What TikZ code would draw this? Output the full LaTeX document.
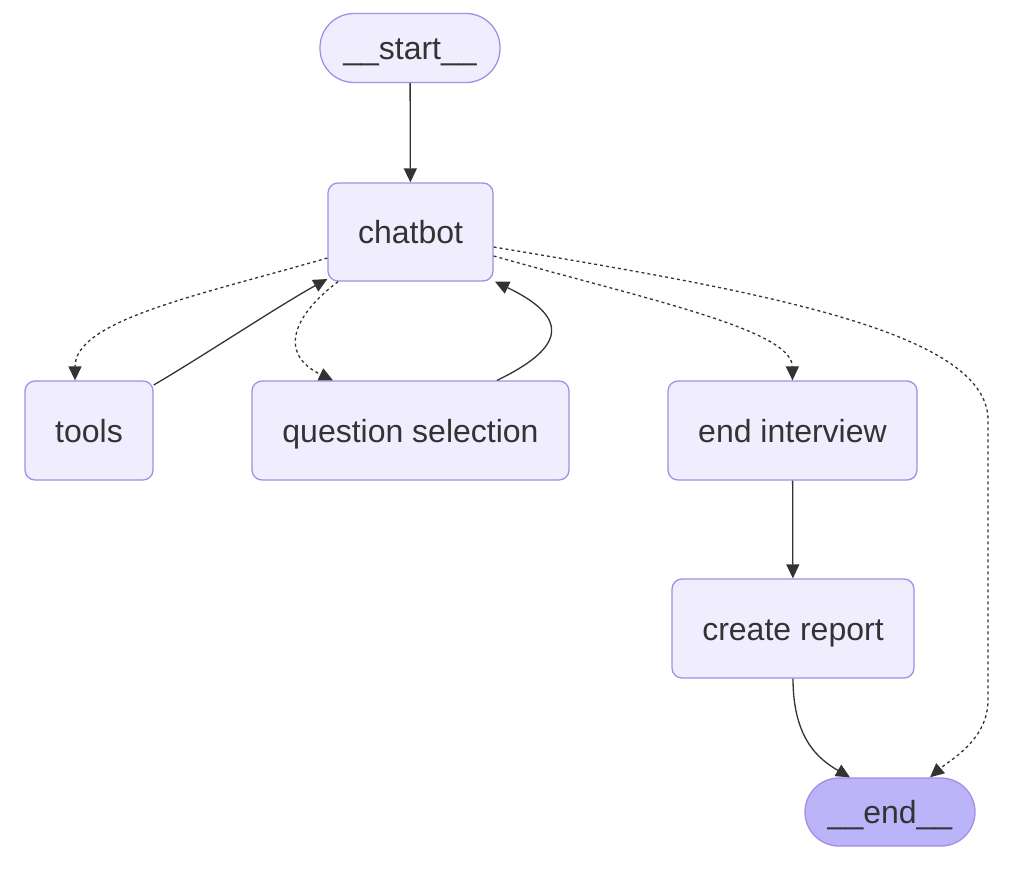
\documentclass[tikz,border=0pt]{standalone}
\usepackage{fontspec}
\setmainfont{Liberation Sans}
\usetikzlibrary{arrows.meta}
\definecolor{nfill}{HTML}{F0EEFE}
\definecolor{nline}{HTML}{A58DE6}
\definecolor{efill}{HTML}{BCB4F8}
\definecolor{txt}{HTML}{333333}
\definecolor{edge}{HTML}{333333}
\begin{document}
\begin{tikzpicture}[x=1pt,y=-1pt,
  box/.style={draw=nline,fill=nfill,line width=1.3pt,rounded corners=10pt,inner sep=0pt,
    text=txt,font=\fontsize{32}{38}\selectfont,text height=26pt,text depth=3pt},
  pill/.style={box,rounded corners=34pt},
  conn/.style={draw=edge,line width=1.3pt,-{Triangle[length=14pt,width=13pt]}},
  dconn/.style={conn,dash pattern=on 3pt off 3pt}]
\useasboundingbox (0,0) rectangle (1032,870);
\node[pill,minimum width=180pt,minimum height=69pt] (start) at (410,48) {\_\_start\_\_};
\node[box,minimum width=165pt,minimum height=98pt] (chatbot) at (410.5,232) {chatbot};
\node[box,minimum width=128pt,minimum height=99pt] (tools) at (89,430.5) {tools};
\node[box,minimum width=317pt,minimum height=99pt] (qs) at (410.5,430.5) {question selection};
\node[box,minimum width=249pt,minimum height=99pt] (ei) at (792.5,430.5) {end interview};
\node[box,minimum width=242pt,minimum height=99pt] (cr) at (793,628.5) {create report};
\node[pill,fill=efill,minimum width=170pt,minimum height=68pt] (end) at (890,812) {\_\_end\_\_};
\draw[conn] (start) -- (chatbot);
\draw[dconn] (chatbot.west |- 0,258) .. controls (200,295) and (75,320) .. (tools.north -| 75,0);
\draw[conn] (tools.north east |- 0,385) .. controls (200,358) and (280,305) .. (chatbot.south west |- 320,279);
\draw[dconn] (chatbot.south west -| 338,0) .. controls (290,318) and (280,355) .. (qs.north -| 333,0);
\draw[conn] (qs.north -| 497,0) .. controls (560,350) and (575,320) .. (chatbot.south east -| 495,0);
\draw[dconn] (chatbot.east |- 0,256) .. controls (650,300) and (792,330) .. (ei.north);
\draw[dconn] (chatbot.east |- 0,247) .. controls (750,290) and (988,330) .. (988,420) -- (988,700) .. controls (988,740) and (950,760) .. (end.north -| 930,0);
\draw[conn] (ei) -- (cr);
\draw[conn] (cr.south) .. controls (793,740) and (820,760) .. (end.north -| 850,0);
\end{tikzpicture}
\end{document}
